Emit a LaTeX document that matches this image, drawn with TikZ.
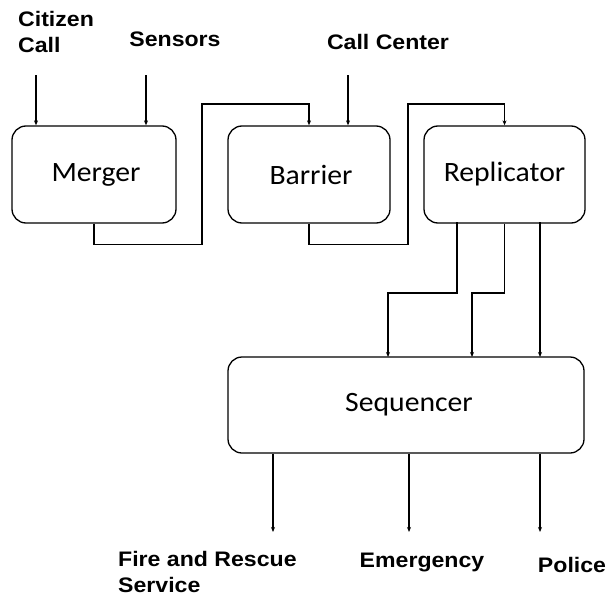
\documentclass[tikz,border=0pt]{standalone}
\usepackage{fontspec}
\setmainfont{Liberation Sans}
\newfontfamily\boxfont{Carlito}[FakeStretch=1.06]
\newfontfamily\lblfont{Liberation Sans}[FakeStretch=1.1]
\usetikzlibrary{arrows.meta}
\begin{document}
\begin{tikzpicture}[x=1pt,y=-1pt,
  blk/.style={draw, line width=1.3pt, rounded corners=14pt, inner sep=0pt, font=\boxfont\fontsize{28}{32}\selectfont},
  lbl/.style={font=\lblfont\bfseries\fontsize{21}{26}\selectfont, inner sep=0pt, align=left},
  conn/.style={line width=1.3pt, -{Stealth[length=5pt,width=4pt]}}]
\useasboundingbox (0,0) rectangle (610,602);
% boxes
\node[blk, minimum width=164pt, minimum height=97pt] (merger) at (94,174.5) {\hspace{4pt}\raisebox{-3pt}{Merger}};
\node[blk, minimum width=162pt, minimum height=97pt] (barrier) at (309,174.5) {\hspace{4pt}\raisebox{-3pt}{Barrier}};
\node[blk, minimum width=161pt, minimum height=97pt] (repl) at (504.5,174.5) {\raisebox{2pt}{Replicator}};
\node[blk, minimum width=356pt, minimum height=96pt] (seq) at (406,405) {\hspace{6pt}Sequencer};
% labels
\node[lbl, anchor=north west] (citizen) at (18,11) {Citizen\\Call};
\node[lbl, anchor=base] (sensors) at (175,47) {Sensors};
\node[lbl, anchor=base] (callc) at (388,50) {Call Center};
\node[lbl, anchor=north west] (fire) at (118,551) {Fire and Rescue\\Service};
\node[lbl, anchor=base] (emerg) at (422,567) {Emergency};
\node[lbl, anchor=base] (police) at (572,572) {Police};
% coordinates
\coordinate (c1) at (36,75);
\coordinate (c2) at (146,75);
\coordinate (c3) at (348,75);
\coordinate (o1) at (273,532);
\coordinate (o2) at (409,532);
\coordinate (o3) at (540,532);
% inputs
\draw[conn] (c1) -- (c1 |- merger.north);
\draw[conn] (c2) -- (c2 |- merger.north);
\draw[conn] (c3) -- (c3 |- barrier.north);
% merger -> barrier
\draw[conn] (merger.south) -- ++(0,21) -| (202,104) -| (barrier.north);
% barrier -> replicator
\draw[conn] (barrier.south) -- ++(0,21) -| (408,104) -| (repl.north);
% replicator -> sequencer
\draw[conn] (457,222) |- (388,293) -- (388,357);
\draw[conn] (repl.south) |- (472,293) -- (472,357);
\draw[conn] (540,222) -- (540,357);
% sequencer outputs
\draw[conn] (seq.south -| o1) -- (o1);
\draw[conn] (seq.south -| o2) -- (o2);
\draw[conn] (seq.south -| o3) -- (o3);
\end{tikzpicture}
\end{document}
